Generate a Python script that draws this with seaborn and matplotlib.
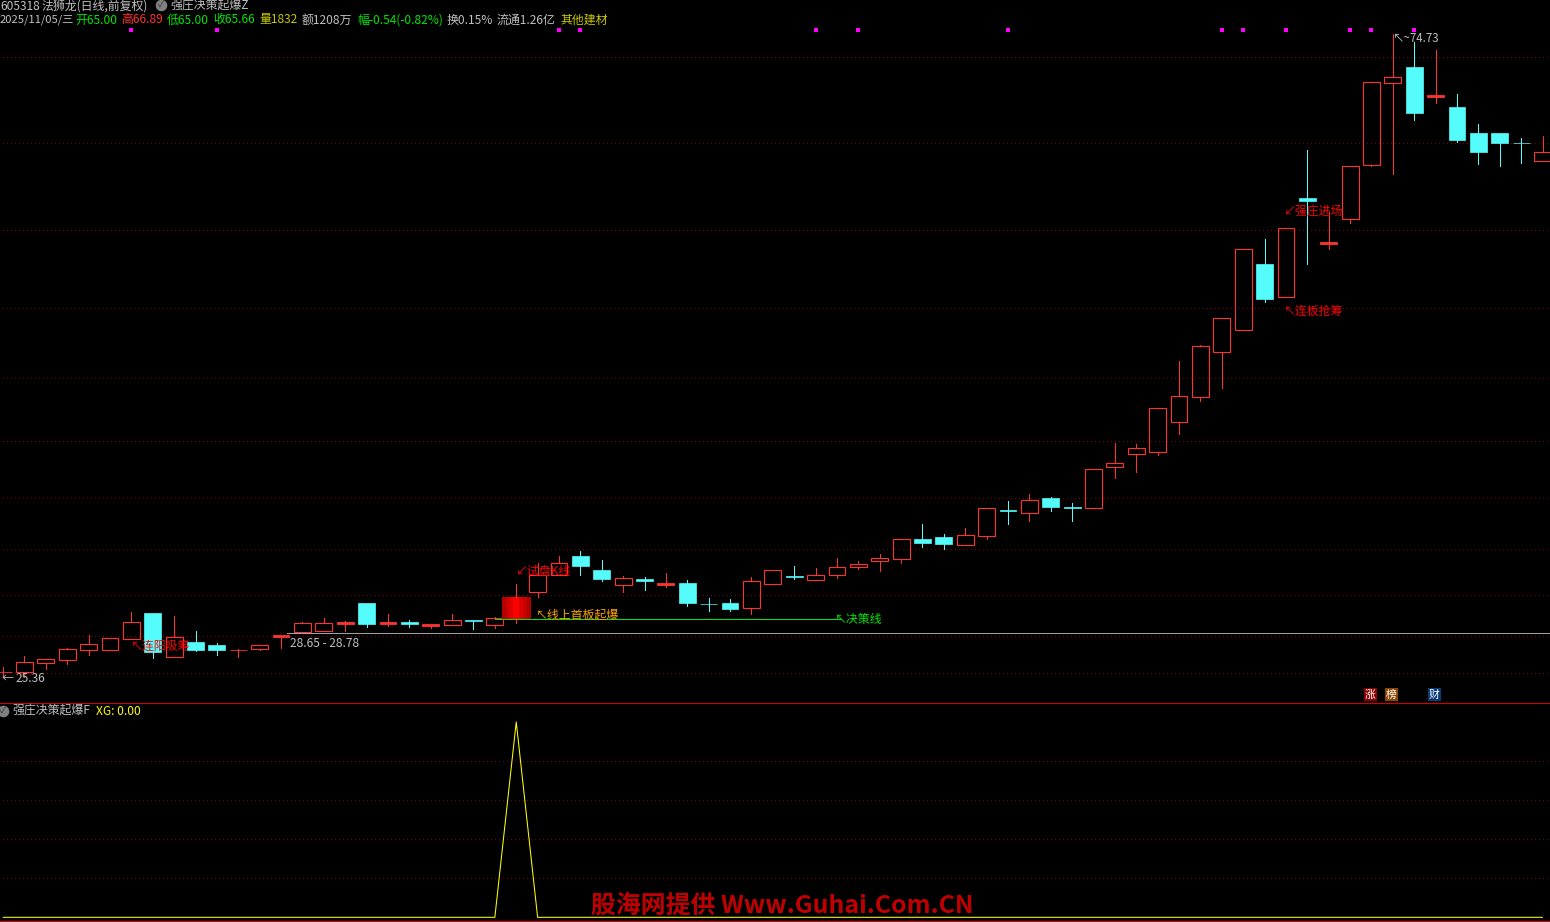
import numpy as np
import pandas as pd
import matplotlib
matplotlib.use("Agg")
import matplotlib.pyplot as plt
import seaborn as sns

# daily prices
opens = [25.77, 25.77, 26.46, 26.70, 27.46, 27.46, 28.31, 30.28, 26.93, 28.05, 27.82, 27.41, 27.54, 28.46, 28.80, 28.92, 29.46, 31.05, 29.46, 29.59, 29.31, 29.38, 29.72, 29.38, 29.80,
         31.92, 33.20, 34.66, 33.58, 32.46, 32.89, 32.43, 32.59, 30.97, 31.05, 30.69, 32.53, 33.10, 32.84, 33.22, 33.84, 34.30, 34.45, 35.94, 36.12, 35.53, 36.22, 38.17, 37.99, 39.11,
         38.40, 38.37, 41.52, 42.52, 42.67, 44.97, 46.89, 50.35, 52.04, 57.08, 54.57, 62.15, 58.64, 60.52, 64.71, 71.01, 72.21, 69.91, 69.14, 67.15, 67.15, 66.36, 65.00]
highs = [26.13, 26.98, 26.73, 27.59, 28.59, 28.34, 30.36, 30.28, 30.05, 28.90, 27.98, 27.52, 27.85, 28.59, 29.59, 29.90, 29.67, 31.05, 30.20, 29.74, 29.44, 30.20, 29.72, 30.00, 32.51,
         34.12, 34.66, 35.04, 34.35, 33.12, 33.05, 33.35, 32.82, 31.43, 31.36, 33.05, 33.56, 33.89, 33.74, 34.51, 34.28, 34.81, 35.94, 37.12, 36.35, 36.81, 38.32, 38.88, 39.42, 39.19,
         38.73, 41.32, 43.34, 43.26, 46.00, 49.64, 50.86, 52.91, 58.21, 59.00, 59.83, 65.84, 61.08, 64.59, 71.04, 74.73, 74.13, 73.52, 70.14, 67.84, 67.15, 66.76, 66.89]
lows = [25.44, 25.36, 25.98, 26.36, 27.06, 27.46, 28.31, 26.85, 26.93, 27.36, 27.06, 26.90, 27.42, 27.59, 28.80, 28.92, 28.90, 29.21, 29.28, 29.21, 29.13, 29.38, 29.05, 29.13, 29.51,
        31.53, 33.20, 33.20, 32.74, 31.89, 32.05, 32.28, 30.82, 30.44, 30.44, 30.20, 32.53, 32.89, 32.84, 32.97, 33.66, 33.51, 34.12, 35.35, 35.20, 35.53, 35.96, 37.12, 37.35, 38.12,
        37.35, 38.37, 40.65, 41.11, 42.42, 44.03, 46.56, 47.56, 52.04, 54.17, 54.57, 57.08, 58.24, 60.23, 64.61, 64.02, 68.14, 69.45, 66.45, 64.76, 64.61, 64.84, 65.00]
closes = [25.77, 26.50, 26.73, 27.49, 27.88, 28.34, 29.57, 27.31, 28.42, 27.44, 27.44, 27.43, 27.80, 28.59, 29.49, 29.49, 29.59, 29.44, 29.59, 29.46, 29.44, 29.72, 29.70, 29.87, 31.51,
          33.20, 34.10, 33.89, 32.89, 32.95, 32.74, 32.59, 31.05, 30.95, 30.59, 32.72, 33.56, 33.08, 33.18, 33.79, 34.02, 34.48, 35.94, 35.66, 35.58, 36.25, 38.32, 38.15, 38.94, 38.42,
          38.38, 41.32, 41.78, 42.93, 46.00, 46.92, 50.76, 52.91, 58.21, 54.40, 59.83, 61.92, 58.77, 64.59, 71.04, 71.42, 68.68, 70.06, 66.61, 65.69, 66.38, 66.34, 65.66]

# XG signal in the lower pane, fires on one day only
signal_day = 24
xg_values = [0.0] * 73
xg_values[signal_day] = 1.0

grid_prices = [72.96, 66.35, 59.67, 53.68, 48.31, 43.47, 39.12, 35.17, 31.63, 28.50, 25.65]
xg_grid = [0.2, 0.4, 0.6, 0.8]
marker_days = [6, 10, 26, 27, 38, 40, 47, 57, 58, 60, 63, 64, 66]
marker_price = 75.03
decision_price = 29.80
range_price = 28.72

RED = "#ff3232"
CYAN = "#54fcfc"
GRAY = "#c0c0c0"
GRID = "#800000"
YELLOW = "#ffff00"
GREEN = "#00e600"
THIN = 0.5  # one pixel when not antialiased

sns.set_theme(style="dark", rc={"axes.facecolor": "black", "figure.facecolor": "black"})
plt.rcParams["font.family"] = ["Noto Sans CJK SC", "DejaVu Sans"]

df = pd.DataFrame({"day": np.arange(len(opens)), "open": opens, "high": highs, "low": lows, "close": closes})
df["top"] = df[["open", "close"]].max(axis=1)
df["bottom"] = df[["open", "close"]].min(axis=1)
df["height"] = df["top"] - df["bottom"]
df["up"] = df["close"] >= df["open"]

fig = plt.figure(figsize=(15.5, 9.22), dpi=100)
ax = fig.add_axes([0, 220 / 922, 1, 702 / 922])
ax2 = fig.add_axes([0, 0, 1, 219 / 922])
over = fig.add_axes([0, 0, 1, 1], zorder=5)
over.set_xlim(0, 1550)
over.set_ylim(922, 0)
over.set_axis_off()
over.patch.set_alpha(0)

ax.hlines(grid_prices, -1, 73, colors=GRID, linewidth=0.72, linestyles=(0, (1, 4)), antialiased=False, zorder=0)

# candles: wicks first, then bodies
for is_up, color in [(True, RED), (False, CYAN)]:
    part = df[df["up"] == is_up]
    ax.vlines(part["day"], part["top"], part["high"], colors=color, linewidth=THIN, antialiased=False)
    ax.vlines(part["day"], part["low"], part["bottom"], colors=color, linewidth=THIN, antialiased=False)

up = df[df["up"] & (df["height"] > 0.17)]
flat = df[df["up"] & (df["height"] <= 0.17)]
down = df[~df["up"]]
sns.barplot(data=up, x="day", y="height", bottom=up["bottom"].values, native_scale=True, width=0.79,
            fill=False, color=RED, saturation=1, linewidth=0.8, errorbar=None, ax=ax)
# barplot scales width by the smallest gap between days, flat days are not neighbours
flat_gap = np.diff(flat["day"]).min()
sns.barplot(data=flat, x="day", y="height", bottom=flat["bottom"].values, native_scale=True, width=0.79 / flat_gap,
            color=RED, saturation=1, edgecolor=RED, linewidth=0.6, errorbar=None, ax=ax)
sns.barplot(data=down, x="day", y="height", bottom=down["bottom"].values, native_scale=True, width=0.79,
            color=CYAN, saturation=1, edgecolor=CYAN, linewidth=0.5, errorbar=None, ax=ax)

# the limit-up day gets a wide shaded block
row = df.loc[signal_day]
for w, c in [(1.36, "#b00000"), (1.0, "#c80000"), (0.65, "#e00000"), (0.3, "#ff0000")]:
    ax.bar(signal_day, row["height"], width=w, bottom=row["bottom"], color=c, linewidth=0, zorder=3)
ax.vlines(signal_day, row["top"], row["high"], colors=RED, linewidth=THIN, antialiased=False, zorder=3)

ax.hlines(decision_price, 23, 39.2, colors=GREEN, linewidth=THIN, antialiased=False, zorder=4)
ax.hlines(range_price, 13.3, 73, colors="#a0a0a0", linewidth=THIN, antialiased=False, zorder=2)

sns.scatterplot(x=marker_days, y=[marker_price] * len(marker_days), marker="s", s=7,
                color="#ff00ff", linewidth=0, legend=False, ax=ax)

ax.set_xlim(-0.145, 72.35)
ax.set_ylim(77.36 - 0.0768 * 702, 77.36)
ax.set_axis_off()

# lower pane
ax2.hlines(xg_grid, -1, 73, colors=GRID, linewidth=0.72, linestyles=(0, (1, 4)), antialiased=False, zorder=0)
sns.lineplot(x=df["day"], y=xg_values, color=YELLOW, linewidth=0.75, ax=ax2, legend=False)
ax2.set_xlim(-0.145, 72.35)
ax2.set_ylim(-0.024, 1.097)
ax2.set_axis_off()

# pane borders
over.plot([0, 1550], [702.5, 702.5], color="#d00000", linewidth=0.8)
over.plot([0, 1550], [920.5, 920.5], color="#d00000", linewidth=0.8)


def label(x, y, s, color=GRAY, size=8.6, **kw):
    over.text(x, y + 1, s, color=color, fontsize=size, va="center", ha="left", **kw)


def icon(x, y):
    over.scatter([x], [y], s=70, color="#808080", linewidth=0)
    over.text(x, y, "✓", color="#303030", fontsize=6.5, ha="center", va="center")


# header rows
label(0, 5, "605318")
label(42, 5, "法狮龙(日线,前复权)")
icon(161, 5)
label(170, 5, "强庄决策起爆Z")
label(0, 19, "2025/11/05/三", size=8.1)
label(75, 19, "开65.00", "#00e600")
label(121, 19, "高66.89", RED)
label(167, 19, "低65.00", "#00e600")
label(213, 19, "收65.66", "#00e600")
label(259, 19, "量1832", "#c8c800")
label(302, 19, "额1208万")
label(357, 19, "幅-0.54(-0.82%)", "#00e600")
label(447, 19, "换0.15%")
label(497, 19, "流通1.26亿")
label(560, 19, "其他建材", "#c8c800")

# price notes
label(1392, 37, "↖~74.73", size=8.3)
label(2, 677, "←")
label(16, 677, "25.36")
label(290, 642, "28.65 - 28.78")

label(131, 645, "↖连阳吸筹", "#ff0000")
label(516, 570, "↙试盘K线", "#ff0000")
label(536, 614, "↖线上首板起爆", "#ffa500")
label(835, 618, "↖决策线", "#00e600")
label(1284, 211, "↙强庄进场", "#ff0000")
label(1284, 310, "↖连板抢筹", "#ff0000")

# small badges above the divider
for x0, s, bg in [(1364, "涨", "#8b0000"), (1385, "榜", "#8b4500"), (1428, "财", "#0a3a78")]:
    over.fill_between([x0, x0 + 13], 688, 701, color=bg, linewidth=0)
    over.text(x0 + 6.5, 694.5, s, color="white", fontsize=7.8, ha="center", va="center")

# lower pane header and watermark
icon(3, 711)
label(12, 710, "强庄决策起爆F")
label(96, 710, "XG: 0.00", "#ffff00")
over.text(591, 906, "股海网提供 Www.Guhai.Com.CN", color="#c00000", fontsize=17.9, fontweight="bold", va="center", ha="left")

over.set_xlim(0, 1550)
over.set_ylim(922, 0)

fig.savefig("out.png", dpi=100, facecolor="black")
